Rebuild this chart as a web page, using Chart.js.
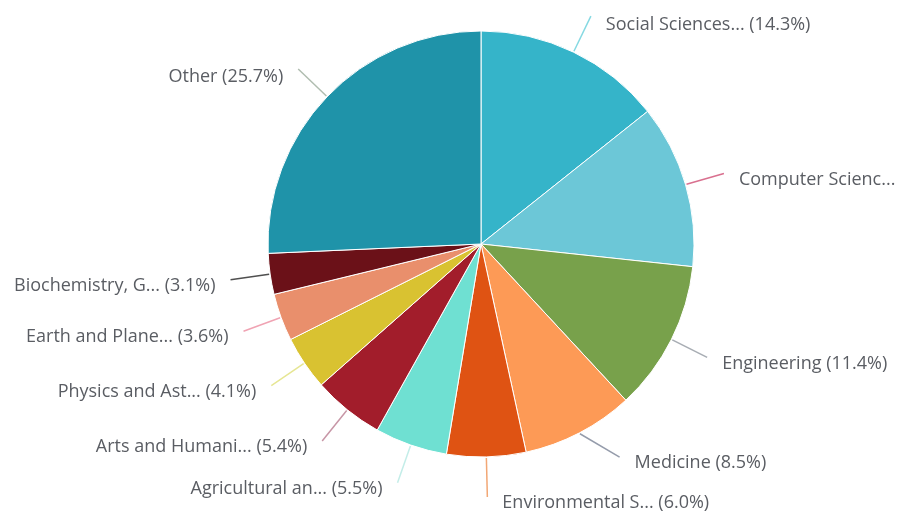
<!DOCTYPE html>
<html>
<head>
<meta charset="utf-8">
<script src="https://cdn.jsdelivr.net/npm/chart.js@4.4.0/dist/chart.umd.min.js"></script>
<style>
html,body{margin:0;padding:0;background:#fff;}
#wrap{width:902px;height:512px;position:relative;}
</style>
</head>
<body>
<div id="wrap"><canvas id="c" width="902" height="512"></canvas></div>
<script>
const categories = ["Social Sciences...", "Computer Scienc...", "Engineering", "Medicine", "Environmental S...", "Agricultural an...", "Arts and Humani...", "Physics and Ast...", "Earth and Plane...", "Biochemistry, G...", "Other"];
const shares = [14.3, 12.4, 11.4, 8.5, 6.0, 5.5, 5.4, 4.1, 3.6, 3.1, 25.7];
const showPct = [true, false, true, true, true, true, true, true, true, true, true];

const sliceColors = ["#35b4c9", "#6cc7d7", "#78a14b", "#fd9a56", "#df5313", "#6fe0d2", "#a21d2b", "#d9c231", "#e98f6c", "#6b1118", "#1f93a9"];
const lineColors = ["#86d9e2", "#d9708f", "#a7acb3", "#959cab", "#f2a775", "#c3ede8", "#c796a6", "#e6e693", "#f0a3b3", "#4f4f4f", "#b0bdb0"];
// connector tilt away from the radial direction, in degrees (label-avoidance style)
const connectorTilt = [0, 0, 0, -32, 0, 0, 0, 0, 0, 0, 0];

const labelPlugin = {
  id: 'outLabels',
  afterDatasetsDraw(chart) {
    const ctx = chart.ctx;
    const meta = chart.getDatasetMeta(0);
    ctx.save();
    ctx.font = '18px "Open Sans", sans-serif';
    ctx.textBaseline = 'middle';
    meta.data.forEach((arc, i) => {
      const p = arc.getProps(['x', 'y', 'startAngle', 'endAngle', 'outerRadius'], true);
      const mid = (p.startAngle + p.endAngle) / 2;
      const c = Math.cos(mid), s = Math.sin(mid);
      const r0 = p.outerRadius + 1;
      const x0 = p.x + c * r0, y0 = p.y + s * r0;
      const dir = mid + connectorTilt[i] * Math.PI / 180;
      const len = connectorTilt[i] ? 46 : 39;
      const x1 = x0 + Math.cos(dir) * len, y1 = y0 + Math.sin(dir) * len;
      ctx.strokeStyle = lineColors[i];
      ctx.lineWidth = 1.5;
      ctx.beginPath();
      ctx.moveTo(x0, y0);
      ctx.lineTo(x1, y1);
      ctx.stroke();
      const txt = categories[i] + (showPct[i] ? ' (' + shares[i].toFixed(1) + '%)' : '');
      ctx.fillStyle = '#5a5d63';
      const right = c >= 0;
      ctx.textAlign = right ? 'left' : 'right';
      const tx = x1 + (right ? 15 : -15);
      const ty = y1 + 6 - Math.min(0, s) * 3;
      ctx.fillText(txt, tx, ty);
    });
    ctx.restore();
  }
};

new Chart(document.getElementById('c'), {
  type: 'pie',
  data: {
    labels: categories,
    datasets: [{
      data: shares,
      backgroundColor: sliceColors,
      borderColor: '#ffffff',
      borderWidth: 1,
      radius: 213,
      hoverOffset: 0
    }]
  },
  options: {
    responsive: false,
    animation: false,
    layout: { padding: { left: 268, right: 208, top: 31, bottom: 55 } },
    plugins: { legend: { display: false }, tooltip: { enabled: false } }
  },
  plugins: [labelPlugin]
});
</script>
</body>
</html>
